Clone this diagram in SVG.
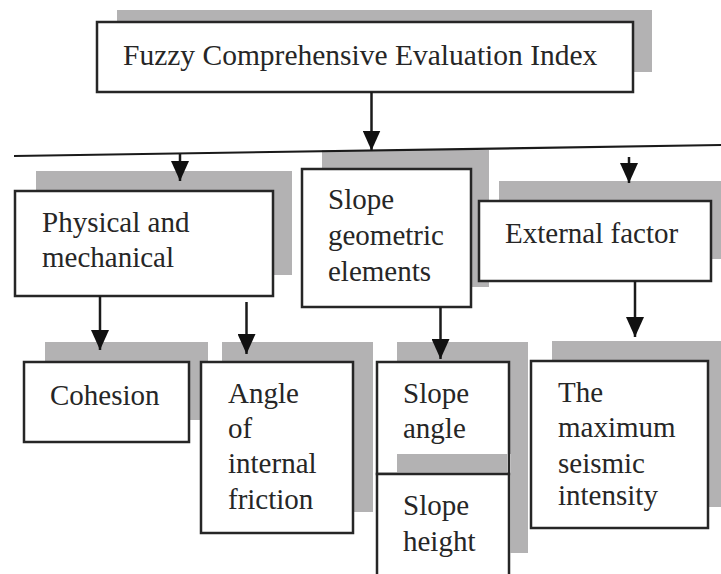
<svg xmlns="http://www.w3.org/2000/svg" width="721" height="574" viewBox="0 0 721 574">
<style>
.sh{fill:#b3b2b3}
.bx{fill:#fff;stroke:#262626;stroke-width:2.5}
.t{font-family:"Liberation Serif","Times New Roman",serif;font-size:29px;fill:#262626}
.c{stroke:#1a1a1a;stroke-width:2.5;fill:none}
</style>
<defs>
<marker id="ah" markerUnits="userSpaceOnUse" markerWidth="20" markerHeight="18" refX="20" refY="9" orient="auto">
<path d="M0,0 L20,9 L0,18 Z" fill="#111"/>
</marker>
</defs>
<rect width="721" height="574" fill="#fff"/>

<g id="root">
<rect class="sh" x="117" y="10" width="535" height="62"/>
<rect class="bx" x="97" y="22" width="536" height="70"/>
<text class="t" x="123" y="65" style="font-size:29.5px">Fuzzy Comprehensive Evaluation Index</text>
</g>

<g id="physical">
<rect class="sh" x="36" y="171" width="256" height="104"/>
<rect class="bx" x="15" y="191" width="258" height="105"/>
<text class="t" x="42" y="232">Physical and</text>
<text class="t" x="42" y="267">mechanical</text>
</g>

<g id="geometric">
<rect class="sh" x="322" y="150" width="167" height="137"/>
<rect class="bx" x="302" y="169" width="169" height="138"/>
<text class="t" x="328" y="209">Slope</text>
<text class="t" x="328" y="245">geometric</text>
<text class="t" x="328" y="281">elements</text>
</g>

<g id="external">
<rect class="sh" x="499" y="181" width="232" height="78"/>
<rect class="bx" x="479" y="201" width="232" height="80"/>
<text class="t" x="505" y="243">External factor</text>
</g>

<g id="cohesion">
<rect class="sh" x="45" y="342" width="163" height="78"/>
<rect class="bx" x="24" y="362" width="165" height="80"/>
<text class="t" x="50" y="405">Cohesion</text>
</g>

<g id="friction">
<rect class="sh" x="222" y="342" width="151" height="170"/>
<rect class="bx" x="201" y="362" width="152" height="171"/>
<text class="t" x="228" y="403">Angle</text>
<text class="t" x="228" y="438">of</text>
<text class="t" x="228" y="473">internal</text>
<text class="t" x="228" y="509">friction</text>
</g>

<g id="slope-angle">
<rect class="sh" x="397" y="342" width="131" height="112"/>
<rect class="bx" x="377" y="362" width="132" height="112"/>
<text class="t" x="403" y="403">Slope</text>
<text class="t" x="403" y="438">angle</text>
</g>

<g id="slope-height">
<path class="sh" d="M397,454 H507.5 V472.5 H397 Z M510.5,454 H528 V553 H510.5 Z"/>
<rect class="bx" x="377" y="474" width="132" height="103"/>
<text class="t" x="403" y="515">Slope</text>
<text class="t" x="403" y="551">height</text>
</g>

<g id="seismic">
<rect class="sh" x="552" y="341" width="177" height="166"/>
<rect class="bx" x="531" y="361" width="177" height="167"/>
<text class="t" x="558" y="402">The</text>
<text class="t" x="558" y="437">maximum</text>
<text class="t" x="558" y="473">seismic</text>
<text class="t" x="558" y="505">intensity</text>
</g>

<g id="connectors">
<line class="c" x1="14" y1="156" x2="721" y2="145" style="stroke-width:2.2"/>
<line class="c" x1="371.5" y1="92" x2="371.5" y2="150.5" marker-end="url(#ah)"/>
<line class="c" x1="180" y1="153.5" x2="180" y2="181" marker-end="url(#ah)"/>
<line class="c" x1="629" y1="157" x2="629" y2="183" marker-end="url(#ah)"/>
<line class="c" x1="100" y1="296" x2="100" y2="350" marker-end="url(#ah)"/>
<line class="c" x1="246.5" y1="302" x2="246.5" y2="354" marker-end="url(#ah)"/>
<line class="c" x1="440.5" y1="307" x2="440.5" y2="359" marker-end="url(#ah)"/>
<line class="c" x1="635" y1="281" x2="635" y2="337" marker-end="url(#ah)"/>
</g>
</svg>
